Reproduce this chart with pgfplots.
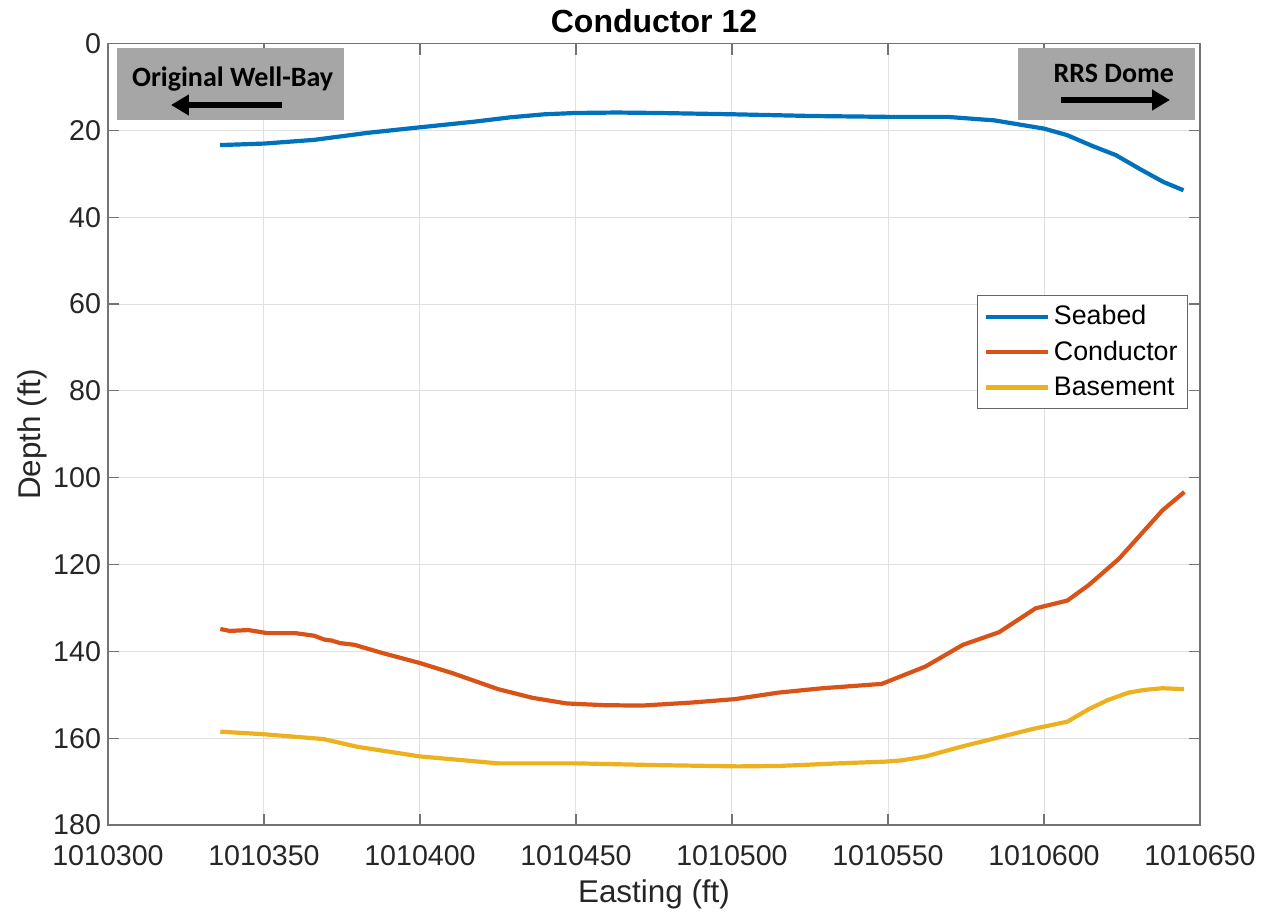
\documentclass[border=0pt]{standalone}
\usepackage{fontspec}
\setmainfont{Liberation Sans}
\newfontfamily\calibri{Carlito}
\usepackage{pgfplots}
\pgfplotsset{compat=1.18}
\usetikzlibrary{arrows.meta}
\definecolor{mBlue}{rgb}{0,0.447,0.741}
\definecolor{mOrange}{rgb}{0.850,0.325,0.098}
\definecolor{mYellow}{rgb}{0.929,0.694,0.125}
\definecolor{axgray}{rgb}{0.15,0.15,0.15}
\makeatletter
\def\eastingtrafo#1{%
  \pgfutil@in@{Y}{#1}%
  \ifpgfutil@in@
    \pgfmathfloattofixed{#1}%
  \else
    \edef\pgfmathresult{#1}%
  \fi
  \expandafter\eastingstrip\pgfmathresult\relax}
\def\eastingstrip#1#2#3#4#5\relax{\def\pgfmathresult{#5}}
\makeatother
\begin{document}
\begin{tikzpicture}
\path[use as bounding box] (-54pt,-47.5pt) rectangle (581.5pt,412.5pt);
\begin{axis}[
  scale only axis, width=546pt, height=390.75pt,
  at={(0pt,0pt)}, anchor=south west,
  x coord trafo/.code={\eastingtrafo{#1}},
  xmin=1010300, xmax=1010650, ymin=0, ymax=180, y dir=reverse,
  xtick={1010300,1010350,1010400,1010450,1010500,1010550,1010600,1010650},
  xticklabels={1010300,1010350,1010400,1010450,1010500,1010550,1010600,1010650},
  ytick={0,20,40,60,80,100,120,140,160,180},
  grid=major, major grid style={color=black!12, line width=0.5pt},
  axis line style={black!55, line width=0.6pt},
  tick style={black!55, line width=0.6pt},
  tick align=inside, major tick length=5.5pt,
  ticklabel style={font=\fontsize{14.3}{16}\selectfont, text=axgray},
  xticklabel style={yshift=-6.5pt},
  /pgf/number format/assume math mode=true,
  xlabel={Easting (ft)}, ylabel={Depth (ft)},
  label style={font=\fontsize{15.7}{18}\selectfont, text=axgray},
  xlabel style={yshift=-0.5pt},
  ylabel style={yshift=-4pt},
  title={Conductor 12},
  title style={font=\fontsize{16}{19}\selectfont\bfseries, yshift=-4pt},
  legend style={at={(0.989,0.678)}, anchor=north east, draw=black!60,
    font=\fontsize{13.4}{16}\selectfont, row sep=2.6pt, inner ysep=3pt},
  legend cell align=left,
  legend image code/.code={\draw[#1,line width=2.1pt] (0pt,0pt) -- (31pt,0pt);},
  every axis plot/.append style={line width=2.1pt},
]
\addplot[mBlue] coordinates {
(1010335.9,23.4) (1010350,23.05) (1010366,22.2) (1010383,20.6) (1010400,19.3)
(1010417.5,18.0) (1010429,17.0) (1010440,16.3) (1010450,16.0) (1010463,15.9)
(1010476,16.0) (1010500,16.3) (1010525.7,16.7) (1010550,16.9) (1010569,16.9)
(1010584,17.7) (1010600,19.6) (1010607.4,21.1) (1010615.5,23.6) (1010623,25.7)
(1010630.7,28.9) (1010638.3,31.9) (1010644.7,33.8)
};
\addlegendentry{Seabed}
\addplot[mOrange] coordinates {
(1010336,134.85) (1010339,135.3) (1010345,135.1) (1010351,135.8) (1010360,135.8)
(1010366,136.4) (1010369.4,137.3) (1010371.6,137.5) (1010374.4,138.1) (1010379,138.5)
(1010388,140.4) (1010400,142.7) (1010410.3,145.0) (1010425,148.7) (1010436,150.7)
(1010447,152.0) (1010459,152.4) (1010471,152.5) (1010487,151.8) (1010501,151.0)
(1010515,149.5) (1010529,148.5) (1010548,147.5) (1010562,143.5) (1010574,138.5)
(1010585.6,135.6) (1010597.3,130.1) (1010607.5,128.3) (1010614.4,124.7) (1010624,118.7)
(1010638,107.5) (1010645,103.3)
};
\addlegendentry{Conductor}
\addplot[mYellow] coordinates {
(1010336,158.5) (1010350,159.1) (1010369,160.2) (1010380,162.0) (1010400,164.2)
(1010425,165.8) (1010450,165.8) (1010475.5,166.2) (1010502,166.5) (1010515,166.4)
(1010534.3,165.8) (1010549.3,165.4) (1010554.6,165.1) (1010562.1,164.2) (1010573.8,161.9)
(1010585.6,159.8) (1010596.3,157.9) (1010607.5,156.2) (1010614.4,153.3) (1010620.5,151.2)
(1010627.2,149.5) (1010632,148.9) (1010637.9,148.5) (1010644.9,148.7)
};
\addlegendentry{Basement}
\end{axis}
\fill[black!35] (4.5pt,352.5pt) rectangle (118pt,388.5pt);
\node[font=\calibri\bfseries\fontsize{14}{16}\selectfont, inner sep=0pt] at (62.3pt,373pt) {Original Well-Bay};
\draw[line width=3pt,-{Triangle[length=9pt,width=10pt]}] (87pt,360pt) -- (31.5pt,360pt);
\fill[black!35] (455pt,352.5pt) rectangle (543.5pt,388.5pt);
\node[font=\calibri\bfseries\fontsize{14}{16}\selectfont, inner sep=0pt] at (502.9pt,376pt) {RRS Dome};
\draw[line width=3pt,-{Triangle[length=9pt,width=10pt]}] (476.5pt,362.5pt) -- (531pt,362.5pt);
\end{tikzpicture}
\end{document}
